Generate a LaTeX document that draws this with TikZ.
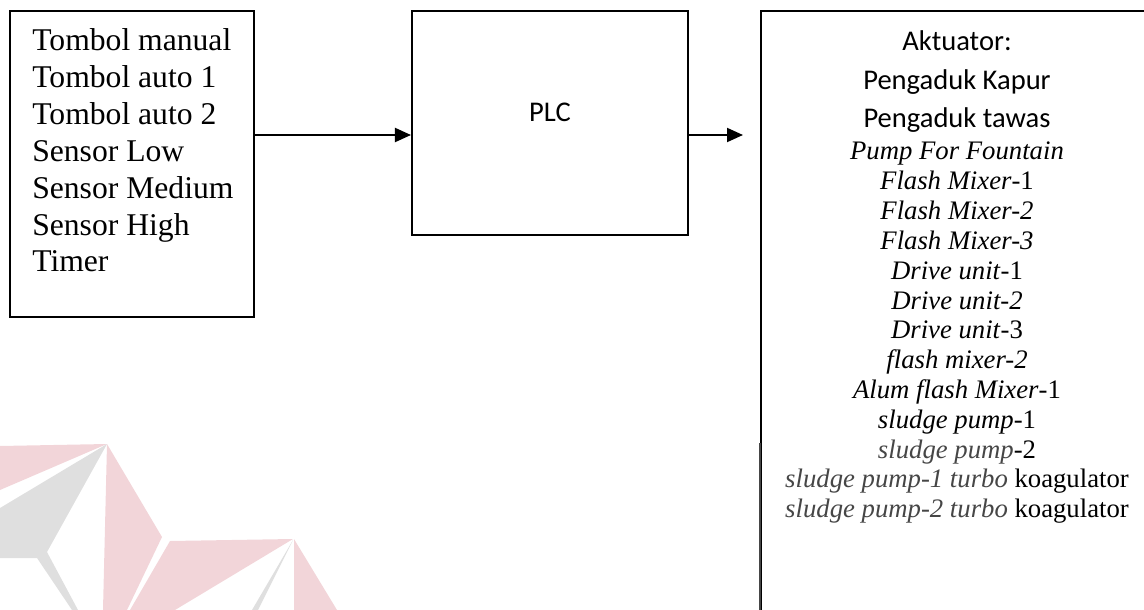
\documentclass[tikz,border=0pt]{standalone}
\usepackage{fontspec}
\setmainfont{Liberation Serif}
\newfontfamily\carlito{Carlito}
\usetikzlibrary{arrows.meta}
\tikzset{
  box/.style={draw, line width=1.4pt, inner sep=0pt},
  flow/.style={-{Triangle[length=4mm, width=3.5mm]}, line width=1.4pt},
  inlbl/.style={anchor=base west, inner sep=0pt, font=\fontsize{22.5}{26}\selectfont},
  actlbl/.style={anchor=base, inner sep=0pt, font=\fontsize{19}{21}\selectfont},
  sanslbl/.style={anchor=base, inner sep=0pt, font=\carlito\fontsize{20.3}{24}\selectfont},
}
\definecolor{logopink}{RGB}{242,213,217}
\definecolor{logogray}{RGB}{223,223,223}
\definecolor{dimtext}{RGB}{70,70,70}

\begin{document}
\begin{tikzpicture}[x=0.025cm, y=-0.025cm]
  \useasboundingbox (0,0) rectangle (1144,610);
  \clip (0,0) rectangle (1144,610);
  % watermark in the corner
  \fill[logopink] (0,446) -- (107,444) -- (0,490) -- cycle;
  \fill[logogray] (0,508) -- (107,444) -- (47,552) -- (78,610) -- (72,610) -- (37,558) -- (0,558) -- cycle;
  \fill[logopink] (107,444) -- (162,537) -- (127,610) -- (103,610) -- cycle;
  \fill[logopink] (170,541) -- (293,539) -- (175,610) -- (130,610) -- cycle;
  \fill[logogray] (293,540) -- (258,610) -- (252,610) -- cycle;
  \fill[logopink] (294,539) -- (337,610) -- (294,610) -- cycle;
  % blocks
  \node[box, minimum width=6.1cm, minimum height=7.65cm] (inbox) at (132,164) {};
  \node[box, minimum width=6.9cm, minimum height=5.6cm] (plc) at (550,123) {};
  \node[sanslbl] (plctxt) at (550,122) {PLC};
  \node[box, minimum width=9.8cm, minimum height=15.5cm] (actbox) at (957,321) {};
  \draw[dimtext, line width=1.4pt] (actbox.west |- 0,443) -- (actbox.south west);
  % signal flow
  \coordinate (lvl) at (0,135);
  \coordinate (outtip) at (743,135);
  \draw[flow] (inbox.east |- lvl) -- (plc.west |- lvl);
  \draw[flow] (plc.east |- lvl) -- (outtip);
  % inputs
  \foreach \txt [count=\i from 0] in {Tombol manual, Tombol auto 1, Tombol auto 2,
      Sensor Low, Sensor Medium, Sensor High, Timer}
    \node[inlbl] (in\i) at (32,{51+36.8*\i}) {\txt};
  % actuators
  \node[sanslbl] (acthead) at (957,51) {Aktuator:};
  \node[sanslbl] (kapur) at (957,90) {Pengaduk Kapur};
  \node[sanslbl] (tawas) at (957,128) {Pengaduk tawas};
  \foreach \txt [count=\i from 0] in {{\textit{Pump For Fountain}}, {\textit{Flash Mixer}-1},
      {\textit{Flash Mixer-2}}, {\textit{Flash Mixer-3}}, {\textit{Drive unit}-1},
      {\textit{Drive unit-2}}, {\textit{Drive unit}-3}, {\textit{flash mixer-2}},
      {\textit{Alum flash Mixer}-1}, {\textit{sludge pump}-1},
      {{\color{dimtext}\textit{sludge pump}}-2},
      {{\color{dimtext}\textit{sludge pump-1 turbo}} koagulator},
      {{\color{dimtext}\textit{sludge pump-2 turbo}} koagulator}}
    \node[actlbl] (act\i) at (957,{160+29.8*\i}) {\txt};
\end{tikzpicture}
\end{document}
